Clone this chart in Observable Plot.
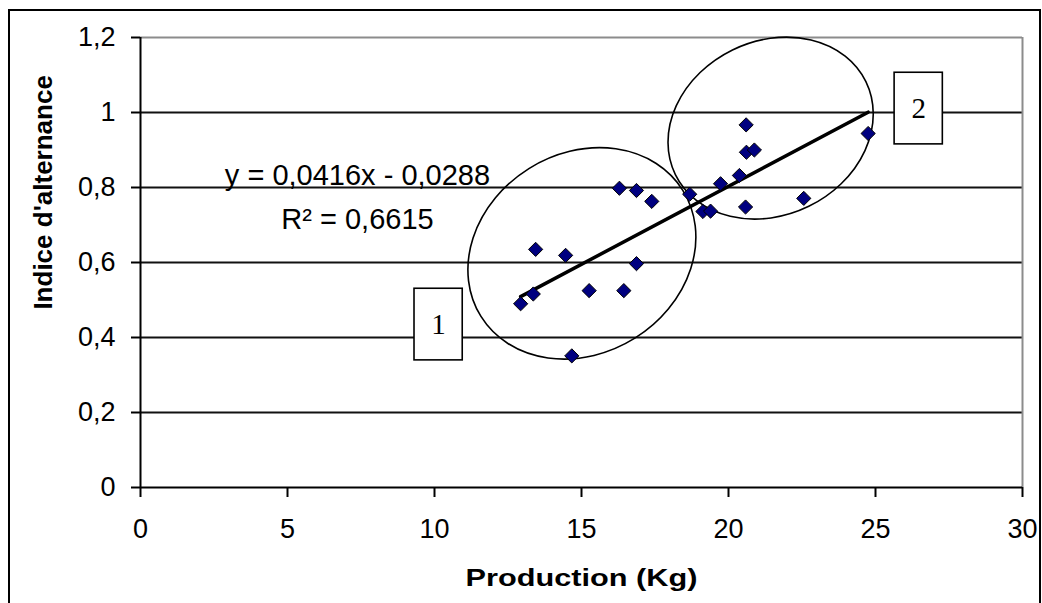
<!DOCTYPE html>
<html><head><meta charset="utf-8">
<script src="https://cdn.jsdelivr.net/npm/d3@7"></script>
<script src="https://cdn.jsdelivr.net/npm/@observablehq/plot@0.6"></script>
<style>
html,body{margin:0;padding:0;background:#fff;overflow:hidden}
#wrap{position:relative;width:1042px;height:603px;overflow:hidden}
#frame{position:absolute;left:8px;top:9px;width:1033px;height:640px;border:2px solid #000;box-sizing:border-box}
#chart{position:absolute;left:0;top:0}
</style></head><body>
<div id="wrap"><div id="frame"></div><div id="chart"></div></div>
<script>
// ---- data ----
const production = [12.93, 13.36, 13.44, 14.46, 14.67, 15.26, 16.29, 16.44, 16.87, 16.87, 17.39,
                    18.68, 19.13, 19.39, 19.73, 20.37, 20.58, 20.61, 20.60, 20.88, 22.56, 24.75];
const indice     = [0.490, 0.516, 0.635, 0.619, 0.351, 0.525, 0.798, 0.525, 0.792, 0.597, 0.763,
                    0.782, 0.736, 0.737, 0.810, 0.832, 0.748, 0.894, 0.967, 0.900, 0.771, 0.944];
const xTicks = [0, 5, 10, 15, 20, 25, 30];
const yTicks = [0, 0.2, 0.4, 0.6, 0.8, 1, 1.2];
const slope = 0.0416, intercept = -0.0288, r2 = 0.6615;
const groupLabels = ["1", "2"];
const xTitle = "Production (Kg)";
const yTitle = "Indice d'alternance";

// ---- annotation geometry (data units for positions) ----
const boxPos = [
  {x1: 9.32, x2: 10.96, y1: 0.339, y2: 0.530},
  {x1: 25.65, x2: 27.29, y1: 0.915, y2: 1.106}
];
const ellipseCenters = [{cx: 15.03, cy: 0.623}, {cx: 21.45, cy: 0.957}];
const ellipseShape = [{rx: 119, ry: 100, angle: -32}, {rx: 106, ry: 87, angle: -26}];
const yTitlePos = {x: -3.28, y: 0.787};

const fmt = d => String(+d.toFixed(1)).replace(".", ",");
function fmt4(v) { return v.toFixed(4).replace(".", ","); }
const points = production.map((x, i) => ({x, y: indice[i]}));
const xr = d3.extent(production);
const trend = xr.map(x => ({x, y: slope * x + intercept}));
const boxes = boxPos.map((b, i) => ({...b, label: groupLabels[i]}));
const eqLines = [
  {x: 7.38, y: 0.808, text: `y = ${fmt4(slope)}x - ${fmt4(-intercept)}`},
  {x: 7.38, y: 0.69, text: `R² = ${fmt4(r2)}`}
];

const FONT = "'Liberation Sans', Arial, sans-serif";

const plot = Plot.plot({
  width: 1042,
  height: 603,
  marginLeft: 140,
  marginRight: 20,
  marginTop: 37,
  marginBottom: 116,
  style: {fontFamily: FONT, fontSize: "27px", background: "transparent", color: "#000"},
  x: {domain: [0, 30]},
  y: {domain: [0, 1.2]},
  marks: [
    Plot.ruleY(yTicks.filter(v => v > 0 && v < 1.2), {stroke: "#111", strokeWidth: 2}),
    Plot.ruleY([1.2], {stroke: "#8c8c8c", strokeWidth: 2}),
    Plot.ruleX([30], {stroke: "#8c8c8c", strokeWidth: 2}),
    Plot.ruleY([0], {stroke: "#000", strokeWidth: 2}),
    Plot.ruleX([0], {stroke: "#000", strokeWidth: 2}),
    Plot.axisY({ticks: yTicks, tickFormat: fmt, tickSize: 9, tickPadding: 16, strokeWidth: 2, fontSize: 27, label: null}),
    Plot.axisX({ticks: xTicks, tickFormat: d => String(d), tickSize: 10, tickPadding: 21, strokeWidth: 2, fontSize: 27, label: null}),
    (index, scales) => {
      const g = d3.create("svg:g");
      g.selectAll("ellipse").data(ellipseCenters).join("ellipse")
        .attr("cx", 0).attr("cy", 0)
        .attr("rx", (d, i) => ellipseShape[i].rx)
        .attr("ry", (d, i) => ellipseShape[i].ry)
        .attr("transform", (d, i) => `translate(${scales.x(d.cx)},${scales.y(d.cy)}) rotate(${ellipseShape[i].angle})`)
        .attr("fill", "none").attr("stroke", "#000").attr("stroke-width", 1.6);
      return g.node();
    },
    Plot.line(trend, {x: "x", y: "y", stroke: "#000", strokeWidth: 3.5}),
    Plot.dot(points, {x: "x", y: "y", symbol: "diamond2", r: 6.4, fill: "#000080", stroke: "#000", strokeWidth: 1}),
    Plot.rect(boxes, {x1: "x1", x2: "x2", y1: "y1", y2: "y2", fill: "#fff", stroke: "#000", strokeWidth: 1.6}),
    Plot.text(boxes, {x: d => (d.x1 + d.x2) / 2, y: d => (d.y1 + d.y2) / 2, text: "label",
      fontFamily: "'Liberation Serif', 'Times New Roman', serif", fontSize: 29, fill: "#000"}),
    Plot.text(eqLines, {x: "x", y: "y", text: "text", lineAnchor: "bottom", fontSize: 29, fill: "#000"}),
    Plot.text([xTitle], {frameAnchor: "bottom", lineAnchor: "bottom", dy: 98, fontWeight: "bold", fontSize: 24, fill: "#000"}),
    Plot.text([yTitle], {x: () => yTitlePos.x, y: () => yTitlePos.y, rotate: -90, fontWeight: "bold", fontSize: 26, fill: "#000"})
  ]
});

// widen the horizontal axis title as in the reference
plot.querySelectorAll("text").forEach(el => {
  if (el.textContent === xTitle) {
    const x = el.getAttribute("x"), y = el.getAttribute("y");
    let t = el.getAttribute("transform") || "";
    if (x !== null || y !== null) {
      t = `translate(${x || 0},${y || 0}) ` + t;
      el.removeAttribute("x"); el.removeAttribute("y");
    }
    el.setAttribute("transform", `${t} scale(1.28,1)`);
  }
});
document.getElementById("chart").appendChild(plot);
</script>
</body></html>
